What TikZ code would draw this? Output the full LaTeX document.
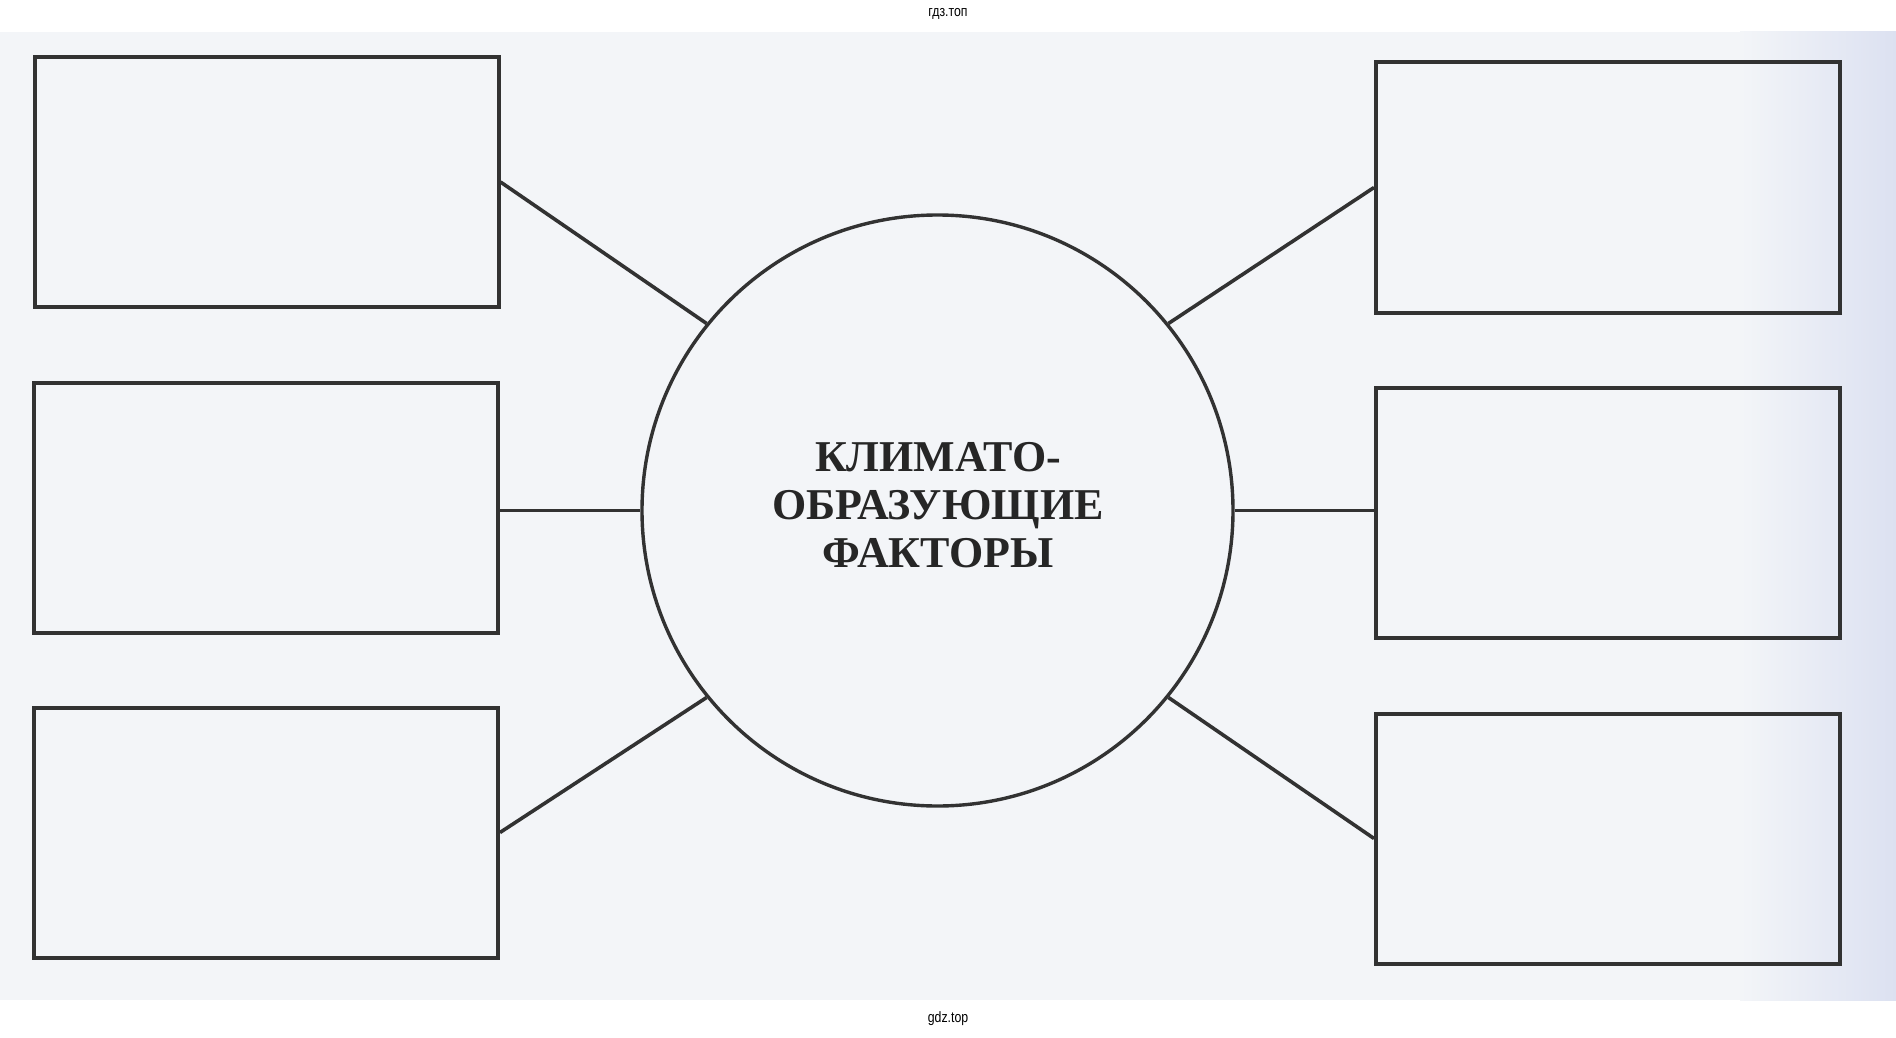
\documentclass[tikz,border=0pt]{standalone}
\usepackage{fontspec}
\setmainfont{Liberation Serif}
\newfontfamily\wmfont{Liberation Sans}
\definecolor{scanbg}{RGB}{243,245,248}
\definecolor{scanblue}{RGB}{220,225,241}
\definecolor{ink}{RGB}{50,50,50}
\definecolor{txtink}{RGB}{38,38,38}
\begin{document}
\begin{tikzpicture}[x=1pt,y=-1pt,
  boxnode/.style={draw=ink, line width=4pt, rectangle, minimum width=464pt, minimum height=250pt, inner sep=0pt},
  hub/.style={draw=ink, line width=3.4pt, circle, minimum size=591pt, inner sep=0pt},
  hubtext/.style={align=center, font=\fontsize{44}{48}\selectfont\bfseries, text=txtink, inner sep=0pt},
  conn/.style={draw=ink, line width=3.6pt},
  wm/.style={font=\wmfont\fontsize{15}{15}\selectfont, text=black}]
% page and scan background
\fill[white] (0,0) rectangle (1896,1038);
\fill[scanbg] (0,32) rectangle (1896,1000);
\shade[left color=scanbg, right color=scanblue] (1740,32) rectangle (1896,1000);
\useasboundingbox (0,0) rectangle (1896,1038);
% watermarks
\node[wm] (wmtop) at (948,14) {\scalebox{0.82}[1]{гдз.топ}};
\node[wm] (wmbot) at (948,1019) {\scalebox{0.82}[1]{gdz.top}};
% central circle
\node[hub] (c) at (937.5,510.5) {};
\node[hubtext] (lbl) at (938,505) {КЛИМАТО-\\ОБРАЗУЮЩИЕ\\ФАКТОРЫ};
% boxes
\node[boxnode] (tl) at (266.5,182) {};
\node[boxnode] (tr) at (1608,187.5) {};
\node[boxnode] (ml) at (266,507.5) {};
\node[boxnode] (mr) at (1608,512.5) {};
\node[boxnode] (bl) at (266,832.5) {};
\node[boxnode] (br) at (1608,838.5) {};
% connectors
\draw[conn] (tl.east) -- (c.141);
\draw[conn] (tr.west) -- (c.39);
\draw[conn] (c.west) -- (c.west -| ml.east);
\draw[conn] (c.east) -- (c.east -| mr.west);
\draw[conn] (bl.east) -- (c.219);
\draw[conn] (br.west) -- (c.321);
\end{tikzpicture}
\end{document}
